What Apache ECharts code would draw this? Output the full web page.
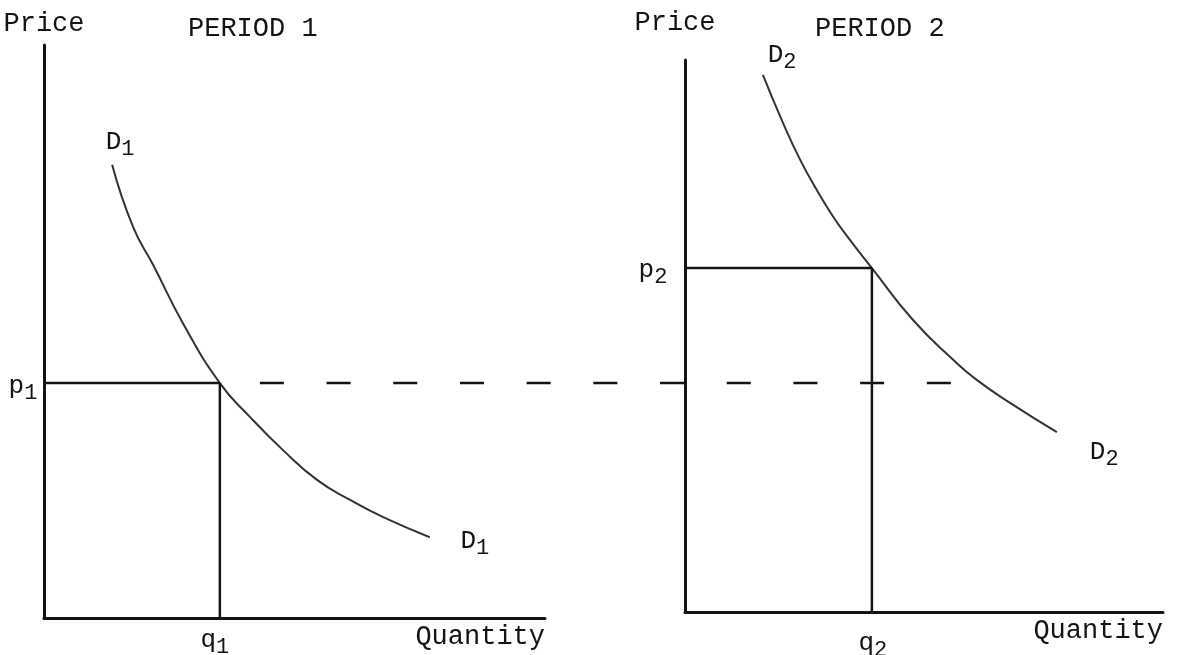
<!DOCTYPE html>
<html>
<head>
<meta charset="utf-8">
<title>Demand in two periods</title>
<script src="https://cdn.jsdelivr.net/npm/echarts@6/dist/echarts.min.js"></script>
<style>
  html, body { margin: 0; padding: 0; background: #fff; }
  #chart { width: 1193px; height: 655px; }
</style>
</head>
<body>
<div id="chart"></div>
<script>
// 两个时期的需求曲线（数据坐标 0-100）
const periodTitles = ['PERIOD 1', 'PERIOD 2']
const axisNames = { y: 'Price', x: 'Quantity' }

// period 1
const demand1 = [
  [13.6, 79.1], [17.8, 68.2], [21.8, 61.6], [27.7, 51.5], [35.1, 41.0],
  [41.1, 35.1], [47.7, 29.3], [54.5, 24.1], [61.1, 20.6], [67.7, 17.6], [77.0, 14.1],
]
const p1 = 41
const q1 = 35.1
const carryOverEnd = 181.2 // dashed p1 level reaching into period 2

// period 2
const demand2 = [
  [16.3, 97.3], [20.5, 88.6], [24.1, 81.9], [27.6, 76.4], [31.0, 71.6], [34.5, 67.4],
  [39.1, 62.3], [47.7, 52.9], [56.1, 45.7], [61.1, 42.0], [68.0, 37.9], [77.8, 32.6],
]
const p2 = 62.3
const q2 = 39.1

// labels: [x, y, main, subscript]
const labels1 = [
  [15.2, 83.1, 'D', '1'],
  [-4.2, 40.5, 'p', '1'],
  [34.1, -3.8, 'q', '1'],
  [86.0, 13.4, 'D', '1'],
]
const labels2 = [
  [20.3, 100.9, 'D', '2'],
  [-6.7, 62.0, 'p', '2'],
  [39.3, -5.6, 'q', '2'],
  [87.7, 29.0, 'D', '2'],
]

const FONT = '"Liberation Mono", "DejaVu Sans Mono", monospace'
const INK = '#141414'
const FS = 27

// left panel geometry, also used by the wide overlay grid for the dashed line
const LEFT = { left: 44, top: 45, width: 501, height: 573 }
const RIGHT = { left: 685, top: 60, width: 478, height: 552 }
const OVERLAY_W = RIGHT.left + RIGHT.width - LEFT.left

const chart = echarts.init(document.getElementById('chart'), null, { renderer: 'canvas' })

const makeXAxis = (gridIndex) => ({
  type: 'value',
  gridIndex,
  min: 0,
  max: 100,
  name: axisNames.x,
  nameLocation: 'end',
  nameGap: 0,
  nameTextStyle: {
    fontFamily: FONT, fontSize: FS, color: INK,
    align: 'right', verticalAlign: 'top', padding: [5, 0, 0, 0],
  },
  axisLine: { show: true, onZero: false, lineStyle: { color: INK, width: 3 } },
  axisTick: { show: false },
  axisLabel: { show: false },
  splitLine: { show: false },
})

const makeYAxis = (gridIndex, gap, pad) => ({
  type: 'value',
  gridIndex,
  min: 0,
  max: 100,
  name: axisNames.y,
  nameLocation: 'end',
  nameGap: gap,
  nameTextStyle: { fontFamily: FONT, fontSize: FS, color: INK, padding: pad },
  axisLine: { show: true, onZero: false, lineStyle: { color: INK, width: 3 } },
  axisTick: { show: false },
  axisLabel: { show: false },
  splitLine: { show: false },
})

const hiddenAxis = (gridIndex, max) => ({
  type: 'value', gridIndex, min: 0, max, show: false,
})

const curve = (name, idx, data) => ({
  name,
  type: 'line',
  xAxisIndex: idx,
  yAxisIndex: idx,
  data,
  smooth: 0.5,
  symbol: 'none',
  lineStyle: { color: '#333333', width: 2 },
  silent: true,
})

const guide = (idx, data, extra) => ({
  type: 'line',
  xAxisIndex: idx,
  yAxisIndex: idx,
  data,
  symbol: 'none',
  clip: false,
  lineStyle: Object.assign({ color: INK, width: 2.5 }, extra || {}),
  silent: true,
})

const labelSeries = (idx, rows) => ({
  type: 'scatter',
  xAxisIndex: idx,
  yAxisIndex: idx,
  clip: false,
  symbolSize: 0,
  itemStyle: { opacity: 1 },
  silent: true,
  data: rows.map((r) => ({
    value: [r[0], r[1]],
    label: {
      show: true,
      position: 'inside',
      formatter: '{m|' + r[2] + '}{s|' + r[3] + '}',
    },
  })),
  label: {
    rich: {
      m: { fontFamily: FONT, fontSize: FS - 1, color: INK },
      s: { fontFamily: FONT, fontSize: 22, color: INK, padding: [14, 0, 0, 0] },
    },
  },
})

const titleStyle = { fontFamily: FONT, fontSize: FS, fontWeight: 'normal', color: INK }

const option = {
  backgroundColor: '#ffffff',
  animation: false,
  title: [
    { text: periodTitles[0], left: 183, top: 10, textStyle: titleStyle },
    { text: periodTitles[1], left: 810, top: 10, textStyle: titleStyle },
  ],
  grid: [
    LEFT,
    RIGHT,
    { left: LEFT.left, top: LEFT.top, width: OVERLAY_W, height: LEFT.height },
  ],
  xAxis: [makeXAxis(0), makeXAxis(1), hiddenAxis(2, 100 * OVERLAY_W / LEFT.width)],
  yAxis: [makeYAxis(0, 8, 0), makeYAxis(1, 24, [0, 20, 0, 0]), hiddenAxis(2, 100)],
  series: [
    curve('D1', 0, demand1),
    guide(0, [[0, p1], [q1, p1]]),
    guide(0, [[q1, 0], [q1, p1]]),
    labelSeries(0, labels1),

    curve('D2', 1, demand2),
    guide(1, [[0, p2], [q2, p2]]),
    guide(1, [[q2, 0], [q2, p2]]),
    labelSeries(1, labels2),

    // p1 carried across to period 2
    guide(2, [[q1, p1], [carryOverEnd, p1]], { type: [24, 42.7], dashOffset: 26.7 }),
  ],
}

chart.setOption(option)
</script>
</body>
</html>
